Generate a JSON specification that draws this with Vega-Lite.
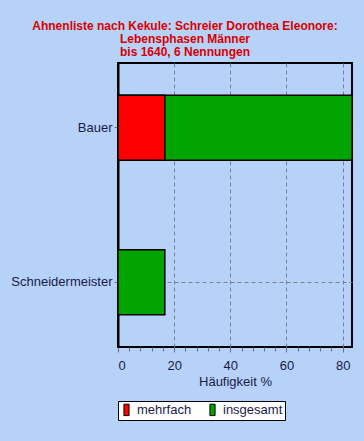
{
  "$schema": "https://vega.github.io/schema/vega-lite/v6.json",
  "width": 234,
  "height": 284,
  "autosize": {"type": "none"},
  "padding": {"left": 118, "top": 63, "right": 12, "bottom": 94},
  "background": "#b6d2f8",
  "title": {
    "text": ["Ahnenliste nach Kekule: Schreier Dorothea Eleonore:", "Lebensphasen Männer", "bis 1640, 6 Nennungen"],
    "anchor": "middle",
    "dx": -50,
    "offset": 4,
    "font": "Liberation Sans",
    "fontSize": 12,
    "fontWeight": "bold",
    "color": "#d80000",
    "lineHeight": 13
  },
  "data": {
    "values": [
      {"Beruf": "Bauer", "Art": "insgesamt", "Prozent": 83.33},
      {"Beruf": "Schneidermeister", "Art": "insgesamt", "Prozent": 16.67},
      {"Beruf": "Bauer", "Art": "mehrfach", "Prozent": 16.67}
    ]
  },
  "encoding": {
    "y": {
      "field": "Beruf",
      "type": "nominal",
      "sort": ["Bauer", "Schneidermeister"],
      "scale": {"paddingInner": 0.578, "paddingOuter": 0.208},
      "axis": {
        "title": null,
        "bandPosition": 0.5,
        "grid": true,
        "gridDash": [4, 3],
        "gridColor": "#7a8090",
        "tickSize": 4,
        "tickColor": "#6a7080",
        "labelPadding": 2,
        "domain": false,
        "labelFont": "Liberation Sans",
        "labelFontSize": 13,
        "labelColor": "#1a1a48"
      }
    }
  },
  "layer": [
    {
      "mark": {"type": "bar", "stroke": "black", "strokeWidth": 1.5},
      "encoding": {
        "x": {
          "field": "Prozent",
          "type": "quantitative",
          "stack": null,
          "scale": {"domain": [0, 83.33], "nice": false, "zero": true},
          "axis": {
            "orient": "bottom",
            "title": "Häufigkeit %",
            "values": [0, 20, 40, 60, 80],
            "grid": true,
            "gridDash": {"condition": {"test": "datum.value === 0", "value": []}, "value": [4, 3]},
            "gridColor": {"condition": {"test": "datum.value === 0", "value": "black"}, "value": "#7a8090"},
            "gridWidth": {"condition": {"test": "datum.value === 0", "value": 2}, "value": 1},
            "tickSize": 5,
            "tickColor": "#6a7080",
            "labelPadding": 7,
            "domain": false,
            "labelFont": "Liberation Sans",
            "labelFontSize": 13,
            "labelColor": "#1a1a48",
            "titleFont": "Liberation Sans",
            "titleFontSize": 13,
            "titleFontWeight": "normal",
            "titleColor": "#1a1a48",
            "titlePadding": 3
          }
        },
        "color": {
          "field": "Art",
          "type": "nominal",
          "scale": {"domain": ["mehrfach", "insgesamt"], "range": ["#ff0000", "#00a400"]},
          "legend": {
            "title": null,
            "orient": "bottom",
            "direction": "horizontal",
            "offset": 13,
            "fillColor": "white",
            "strokeColor": "black",
            "padding": 2,
            "symbolType": "M-0.45,-1H0.45V1H-0.45Z",
            "symbolSize": 130,
            "symbolStrokeColor": "black",
            "symbolStrokeWidth": 1,
            "symbolOpacity": 1,
            "labelFont": "Liberation Sans",
            "labelFontSize": 13,
            "labelColor": "#1a1a48",
            "columnPadding": 14,
            "labelOffset": 4
          }
        },
        "order": {"value": 0}
      }
    },
    {
      "mark": {"type": "bar", "opacity": 0},
      "encoding": {
        "x": {
          "field": "Prozent",
          "type": "quantitative",
          "stack": null,
          "scale": {"domain": [0, 83.33], "nice": false, "zero": true},
          "axis": {
            "orient": "bottom",
            "title": null,
            "values": [4, 8, 12, 16, 24, 28, 32, 36, 44, 48, 52, 56, 64, 68, 72, 76],
            "labels": false,
            "grid": false,
            "domain": false,
            "tickSize": 4,
            "tickColor": "#6a7080"
          }
        }
      }
    }
  ],
  "resolve": {"axis": {"x": "independent"}},
  "config": {
    "view": {"stroke": "black", "strokeWidth": 2}
  }
}
